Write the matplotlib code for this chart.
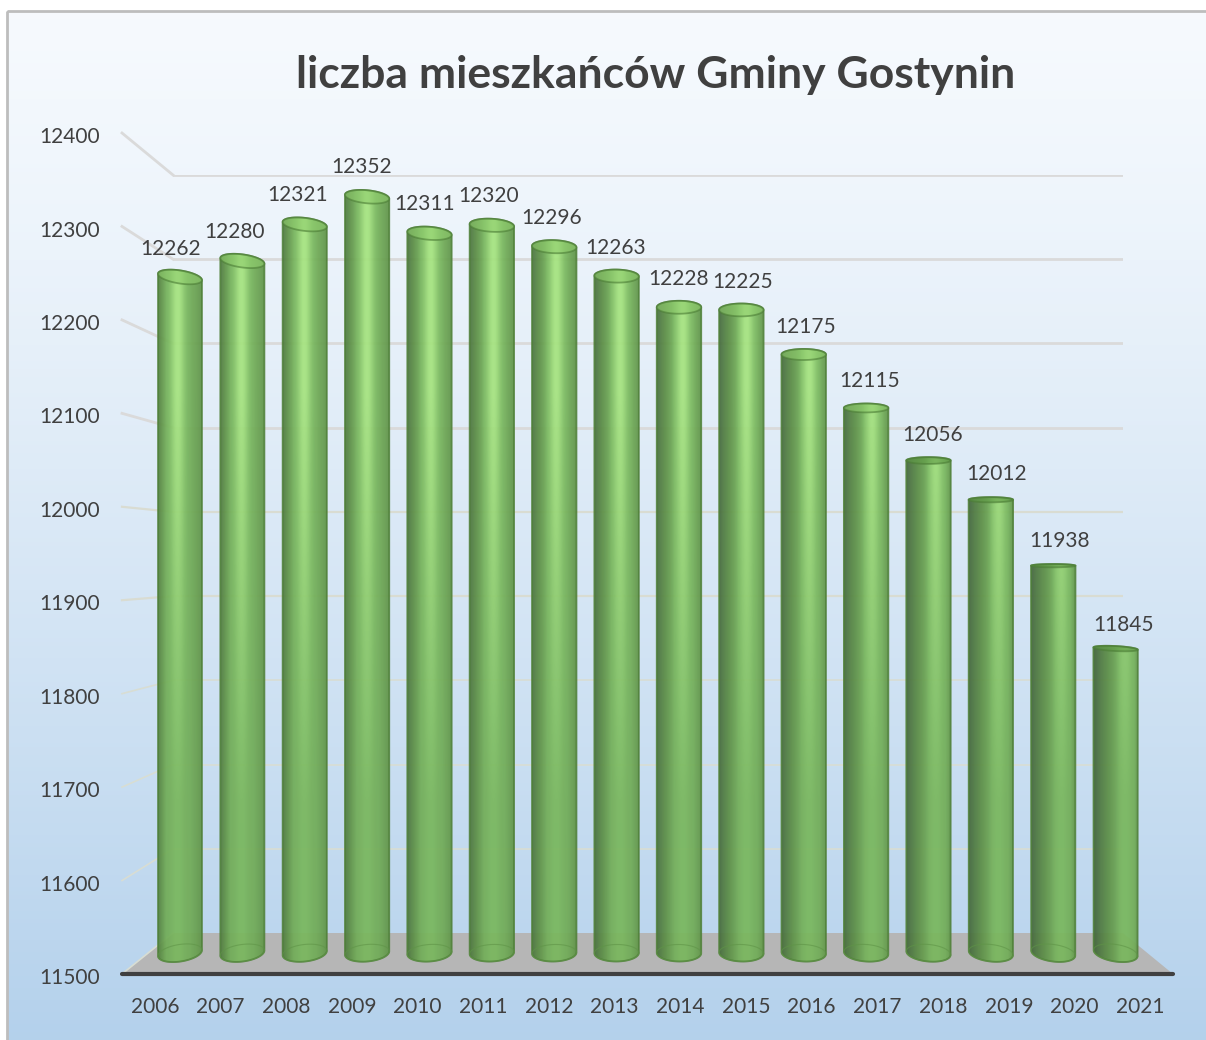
import numpy as np
import matplotlib
matplotlib.use("Agg")
import matplotlib.pyplot as plt
from matplotlib.colors import LinearSegmentedColormap
from matplotlib.patches import Polygon
from matplotlib.lines import Line2D
from matplotlib.transforms import ScaledTranslation

years = [2006, 2007, 2008, 2009, 2010, 2011, 2012, 2013,
         2014, 2015, 2016, 2017, 2018, 2019, 2020, 2021]
people = [12262, 12280, 12321, 12352, 12311, 12320, 12296, 12263,
          12228, 12225, 12175, 12115, 12056, 12012, 11938, 11845]
y_ticks = [11500, 11600, 11700, 11800, 11900, 12000, 12100, 12200, 12300, 12400]
title = "liczba mieszkańców Gminy Gostynin"

W, H = 1206, 1040
plt.rcParams['font.family'] = ['Lato', 'DejaVu Sans']
TEXT = '#404040'
BASE = y_ticks[0]


def pane(left, top, right, bottom):
    # axes placed in pixels, all panes share the same data range
    a = fig.add_axes([left / W, 1 - bottom / H, (right - left) / W, (bottom - top) / H])
    a.set_xlim(-0.5, 15.5)
    a.set_ylim(BASE, y_ticks[-1])
    a.patch.set_alpha(0)
    return a


def to_fig(a, x, y):
    return fig.transFigure.inverted().transform(a.transData.transform((x, y)))


def link(a, b, xa, ya, xb, yb, **kw):
    p, q = to_fig(a, xa, ya), to_fig(b, xb, yb)
    fig.add_artist(Line2D([p[0], q[0]], [p[1], q[1]], transform=fig.transFigure, **kw))


def ellipse_xy(cx, cy, a, b, tilt, t):
    # ellipse sized in pixels, returned in data units of the bar pane
    th = np.radians(tilt)
    dx = a * np.cos(t) * np.cos(th) - b * np.sin(t) * np.sin(th)
    dy = a * np.cos(t) * np.sin(th) + b * np.sin(t) * np.cos(th)
    return cx + dx / px_x, cy + dy / px_y


fig = plt.figure(figsize=(W / 100, H / 100), dpi=100)

# background
bg = fig.add_axes([0, 0, 1, 1], zorder=-5)
top_c, bot_c = np.array([0.965, 0.98, 0.995]), np.array([0.706, 0.82, 0.925])
t = np.linspace(0, 1, 256)[:, None, None] ** 1.25
bg.imshow(top_c + (bot_c - top_c) * t, aspect='auto', extent=(7, W + 5, H, 11))
bg.set_xlim(0, W)
bg.set_ylim(H, 0)
bg.axis('off')
bg.add_patch(plt.Rectangle((7, 11), W, H, fill=False, ec='#bdbdbd', lw=2))

# front plane has the axis labels, back plane the gridlines
front = pane(122, 133, 1173, 974)
back = pane(173, 175, 1123, 933)
bars = pane(148.8, 154, 1146.8, 956)
labels = pane(139.25, 124, 1155.25, 937)
front.set_zorder(1)
back.set_zorder(1)
bars.set_zorder(3)
labels.set_zorder(4)

p0, p1 = to_fig(front, -0.5, BASE), to_fig(front, 15.5, BASE)
p2, p3 = to_fig(back, 15.5, BASE), to_fig(back, -0.5, BASE)
fig.add_artist(Polygon([p0, p1, p2, p3], closed=True, transform=fig.transFigure,
                       fc='#b6b6b6', ec='none', zorder=0.5))

for i, v in enumerate(y_ticks):
    shade = '#dadada' if v > 12000 else '#d9dcd2' if v > 11800 else '#d8ddd3'
    lw = 2 if v > 12000 else 1.6 if v > 11800 else 1.2
    if v > BASE:
        back.axhline(v, color=shade, lw=lw)
    link(front, back, -0.5, v, -0.5, v, color=shade, lw=lw, zorder=0.6)
fig.add_artist(Line2D([p0[0], p1[0]], [p0[1], p1[1]], transform=fig.transFigure,
                      color='#404040', lw=3, solid_capstyle='round', zorder=0.7))

front.set_xticks(range(len(years)))
front.set_xticklabels(years)
front.set_yticks(y_ticks)
front.tick_params(length=0, labelsize=15, labelcolor=TEXT)
front.tick_params(axis='x', pad=16.5)
front.tick_params(axis='y', pad=16)
for lab in front.get_yticklabels():
    lab.set_transform(lab.get_transform() + ScaledTranslation(0, -1.5 / 72, fig.dpi_scale_trans))
for s in front.spines.values():
    s.set_visible(False)
for s in back.spines.values():
    s.set_visible(False)
back.set_xticks([])
back.set_yticks([])

bars.axis('off')
labels.axis('off')
bar_w = 0.713
px_x = 62.4
px_y = 802 / 900
half = bar_w * px_x / 2
green = LinearSegmentedColormap.from_list(
    'g', [(0, '#38523a'), (0.4, '#5d8f47'), (0.66, '#7ab85f'), (1, '#a6e480')])
tt = np.linspace(0, 2 * np.pi, 80)
lower = np.linspace(np.pi, 2 * np.pi, 40)
upper = np.linspace(0, np.pi, 40)

for i, v in enumerate(people):
    u = i / 15
    xs = np.linspace(-1, 1, 90)
    hi = -0.1 + 0.5 * u          # highlight drifts right across the chart
    prof = np.exp(-((xs - hi) / 0.32) ** 2)
    ys = np.linspace(1, 0, 200)[:, None]
    glare = np.clip((ys * (v - BASE) / 900 - 0.2) / 0.5, 0, 1)
    val = 0.58 + prof * (0.08 + glare * 0.34)
    edge_l = np.clip((xs + 1) / (0.4 + 0.75 * u), 0, 1) ** 0.8
    edge_r = np.clip((1 - xs) / (0.55 - 0.35 * u), 0, 1) ** 0.7
    val = val * (0.42 - 0.27 * u + (0.58 + 0.27 * u) * edge_l) * (0.68 + 0.32 * edge_r)
    rgba = green(np.clip(val, 0, 1))
    rgba[..., 3] = 0.94

    # tilt of the ellipses follows the perspective of the picture
    top_tilt = -9 * max(0, 1 - i / 8) if i < 15 else -3
    low_tilt = 9 * (1 - 2 * u)
    cap_b = 1.5 + 5 * np.clip((v - 11950) / 280, 0, 1) + np.clip((11950 - v) / 70, 0, 1)
    foot = BASE + 3 / px_y

    lx, ly = ellipse_xy(i, foot, half, 8.5, low_tilt, lower)
    ux, uy = ellipse_xy(i, v, half, cap_b, top_tilt, upper)
    body = Polygon(np.column_stack([np.r_[lx, ux], np.r_[ly, uy]]), closed=True,
                   fc='none', ec='#4f8038', lw=1.3, alpha=0.85, zorder=4, clip_on=False)
    bars.add_patch(body)

    im = bars.imshow(rgba, aspect='auto', zorder=3, interpolation='bilinear',
                     extent=(i - bar_w / 2 - 0.01, i + bar_w / 2 + 0.01, foot - 14 / px_y, v + 12 / px_y))
    im.set_clip_path(body)
    im.set_clip_box(fig.bbox)

    # open top of the cylinder, darker as it nears eye level
    cap_fc = '#8fcd6d' if v > 12100 else '#5f9a45'
    cx, cy = ellipse_xy(i, v, half, cap_b, top_tilt, tt)
    bars.fill(cx, cy, fc=cap_fc, ec='#4b7c35', lw=1.3, alpha=0.6, zorder=5, clip_on=False)
    rx, ry = ellipse_xy(i, foot, half, 8.5, low_tilt, tt)
    bars.plot(rx, ry, color='#5f9447', lw=0.8, alpha=0.6, zorder=5, clip_on=False)

    labels.text(i, v, str(v), color=TEXT, fontsize=15, ha='center', va='center', zorder=6)

bars.set_xlim(-0.5, 15.5)
bars.set_ylim(BASE, y_ticks[-1])

fig.text(656 / W, 1 - 75 / H, title, fontsize=32, fontweight='bold', color=TEXT, ha='center', va='center')

fig.savefig('out.png', dpi=100)
